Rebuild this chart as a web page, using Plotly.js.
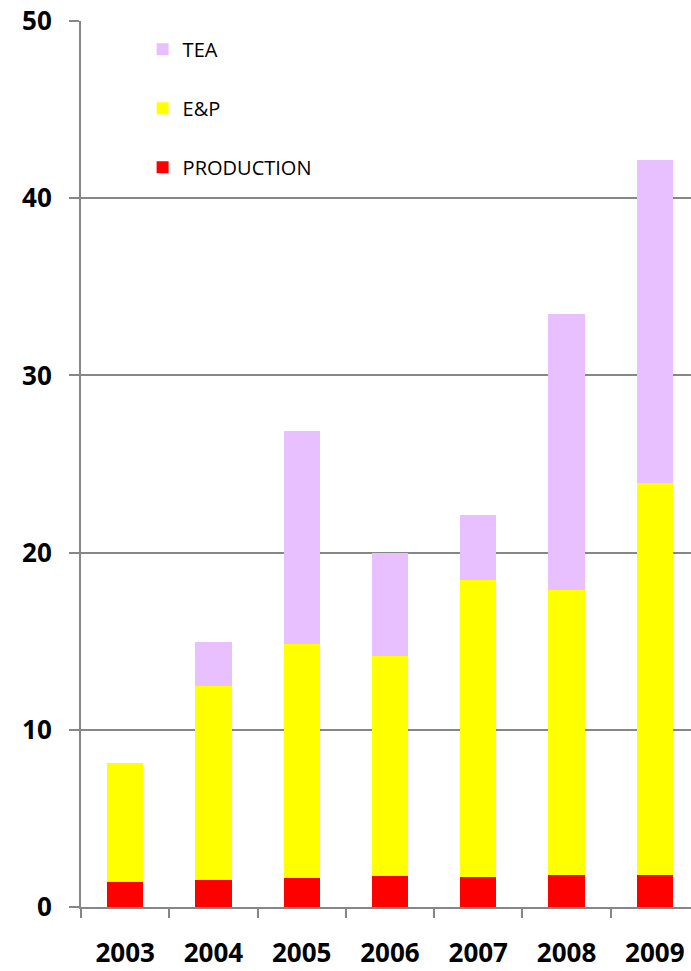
<!DOCTYPE html>
<html>
<head>
<meta charset="utf-8">
<script src="https://cdn.plot.ly/plotly-3.0.1.min.js"></script>
<style>html,body{margin:0;padding:0;background:#fff;}#chart{width:691px;height:971px;}</style>
</head>
<body>
<div id="chart"></div>
<script>
var years = ["2003", "2004", "2005", "2006", "2007", "2008", "2009"];
var production = [1.4, 1.5, 1.65, 1.75, 1.7, 1.8, 1.8];
var exploration = [6.7, 11.0, 13.2, 12.4, 16.75, 16.1, 22.15];
var tea = [0, 2.45, 12.0, 5.85, 3.7, 15.55, 18.2];
var yTicks = [0, 10, 20, 30, 40, 50];

var gray = "#868686";
var traces = [
  {type: "bar", name: "PRODUCTION", x: years, y: production, marker: {color: "#FF0000"}, legendgroup: "a", legendrank: 3},
  {type: "bar", name: "E&P", x: years, y: exploration, marker: {color: "#FFFF00"}, legendgroup: "b", legendrank: 2},
  {type: "bar", name: "TEA", x: years, y: tea, marker: {color: "#E8C0FF"}, legendgroup: "c", legendrank: 1}
];

var tickFont = {family: "'Open Sans', sans-serif", size: 26, color: "#000", weight: "bold"};

var layout = {
  width: 691, height: 971,
  margin: {l: 81, r: 0, t: 21, b: 64},
  barmode: "stack",
  bargap: 0.59,
  paper_bgcolor: "#fff", plot_bgcolor: "#fff",
  showlegend: true,
  legend: {
    x: 0.101, y: 0.99, xanchor: "left", yanchor: "top",
    traceorder: "grouped", tracegroupgap: 30,
    font: {family: "'Open Sans', sans-serif", size: 20, color: "#000"},
    bgcolor: "rgba(0,0,0,0)", itemclick: false
  },
  xaxis: {
    type: "category",
    range: [-0.5, 6.41],
    showline: true, linecolor: gray, linewidth: 2,
    ticks: "outside", ticklen: 9, tickcolor: gray, tickwidth: 2,
    tickson: "boundaries",
    showgrid: false,
    ticklabelstandoff: 22,
    tickfont: tickFont
  },
  yaxis: {
    range: [0, 50],
    tickvals: yTicks,
    ticktext: yTicks.map(String),
    showline: true, linecolor: gray, linewidth: 2,
    ticks: "outside", ticklen: 10, tickcolor: gray, tickwidth: 2,
    showgrid: true, gridcolor: gray, gridwidth: 2,
    zeroline: false,
    ticklabelstandoff: 12,
    tickfont: tickFont
  }
};

Plotly.newPlot("chart", traces, layout, {displayModeBar: false, staticPlot: true});
</script>
</body>
</html>
